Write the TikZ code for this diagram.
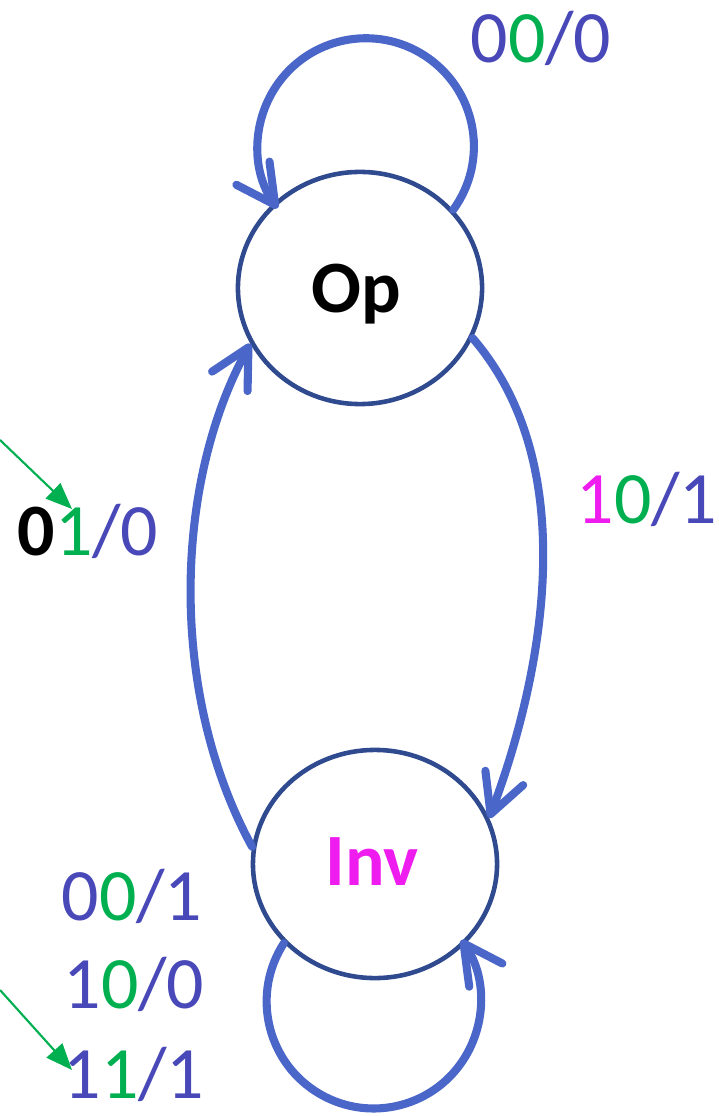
\documentclass[tikz,border=0pt]{standalone}
\usepackage{fontspec}
\setmainfont{Carlito}
\usetikzlibrary{arrows.meta,shapes.geometric}
\definecolor{txtblue}{HTML}{4848B8}
\definecolor{txtgreen}{HTML}{00B050}
\definecolor{txtmag}{HTML}{EE1CEE}
\definecolor{arrblue}{HTML}{4A66C8}
\definecolor{ringblue}{HTML}{2F4A8E}
\tikzset{
  statenode/.style={draw=ringblue, line width=1.3pt, ellipse, minimum width=2.44cm, minimum height=2.32cm, inner sep=0pt},
  trans/.style={draw=arrblue, line width=2.3pt, line cap=round, -{Straight Barb[round,length=11pt,width=11.5pt]}},
  pointer/.style={draw=txtgreen, line width=0.6pt, -{Triangle[length=7.5pt,width=6pt]}},
  lbl/.style={anchor=base, inner sep=0pt, font=\fontsize{21}{25}\selectfont},
  stname/.style={anchor=base, inner sep=0pt, font=\fontsize{21}{25}\selectfont\bfseries}
}
\begin{document}
\begin{tikzpicture}[x=0.01cm,y=0.01cm]
\useasboundingbox (0,0) rectangle (719,-1116);
% states
\node[statenode] (op) at (360,-288) {};
\node[statenode, minimum height=2.28cm] (inv) at (375,-864) {};
\node[stname] (optext) at (356,-313) {Op};
\node[stname, text=txtmag] (invtext) at (372,-885) {Inv};
% self loop on Op
\draw[trans] (op.40) arc[start angle=-36, end angle=215, radius=108];
% self loop on Inv
\draw[trans] (inv.221) arc[start angle=147, end angle=395, radius=107];
% Op -> Inv
\draw[trans] (op.-24) .. controls (594,-479) and (530,-710) .. (inv.22);
% Inv -> Op
\draw[trans] (inv.172) .. controls (168,-693) and (174,-483) .. (op.207);
% labels
\node[lbl] (l000) at (541,-63) {\textcolor{txtblue}{0}\textcolor{txtgreen}{0}\textcolor{txtblue}{/0}};
\node[lbl] (l101) at (647,-523) {\textcolor{txtmag}{1}\textcolor{txtgreen}{0}\textcolor{txtblue}{/1}};
\node[lbl] (l010) at (88,-555) {\textbf{0}\textcolor{txtgreen}{1}\textcolor{txtblue}{/0}};
\node[lbl] (l001) at (132,-920) {\textcolor{txtblue}{0}\textcolor{txtgreen}{0}\textcolor{txtblue}{/1}};
\node[lbl] (l100) at (134,-1008) {\textcolor{txtblue}{1}\textcolor{txtgreen}{0}\textcolor{txtblue}{/0}};
\node[lbl] (l111) at (134,-1098) {\textcolor{txtblue}{1}\textcolor{txtgreen}{1}\textcolor{txtblue}{/1}};
% green pointers
\coordinate (p1s) at (0,-440);
\coordinate (p1e) at (72,-509);
\coordinate (p2s) at (0,-990);
\coordinate (p2e) at (72,-1070);
\draw[pointer] (p1s) -- (p1e);
\draw[pointer] (p2s) -- (p2e);
\end{tikzpicture}
\end{document}
